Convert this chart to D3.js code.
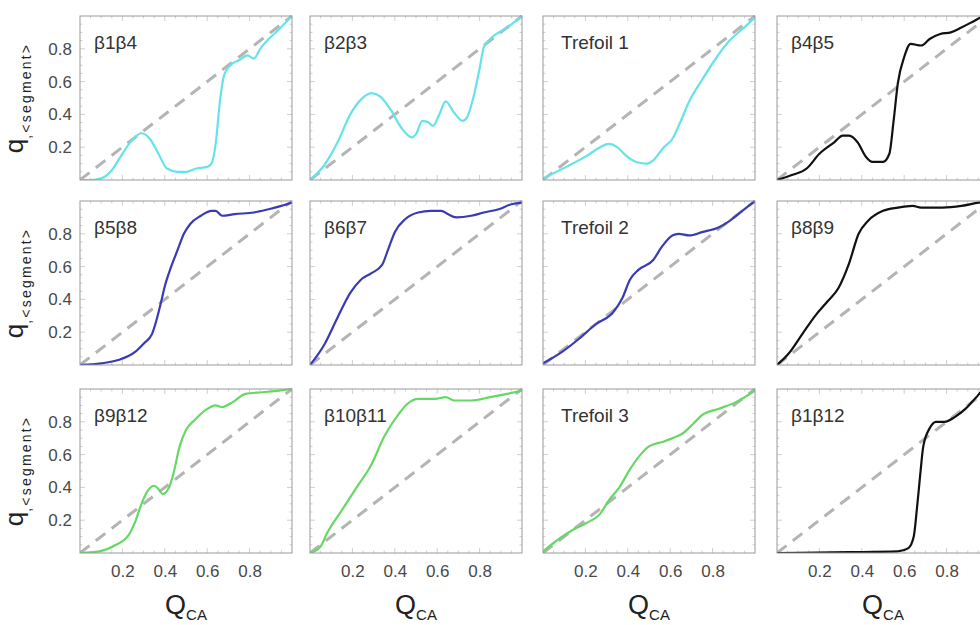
<!DOCTYPE html>
<html><head><meta charset="utf-8">
<script src="https://cdn.jsdelivr.net/npm/d3@7"></script>
<style>
html,body{margin:0;padding:0;background:#fff;}
svg{display:block;font-family:"Liberation Sans",Arial,sans-serif;}
</style></head>
<body>
<svg id="chart" width="980" height="625"></svg>
<script>
// ---- data ----
const panelNames = ["β1β4","β2β3","Trefoil 1","β4β5",
                    "β5β8","β6β7","Trefoil 2","β8β9",
                    "β9β12","β10β11","Trefoil 3","β1β12"];
const rowColors = ["#66e3e8","#3a3ab4","#66d866"];
const col4Color = "#111111";
const tickValues = [0.2,0.4,0.6,0.8];
const tickLabels = ["0.2","0.4","0.6","0.8"];
const diagonal = [[0,0],[1,1]];

const b1b4 = [[0,0],[0.05,0],[0.1,0.01],[0.15,0.06],[0.2,0.16],[0.25,0.25],[0.29,0.285],[0.33,0.25],[0.37,0.16],[0.41,0.07],[0.46,0.05],[0.5,0.05],[0.55,0.07],[0.6,0.08],[0.62,0.1],[0.64,0.22],[0.66,0.48],[0.68,0.64],[0.71,0.7],[0.75,0.73],[0.79,0.76],[0.82,0.74],[0.85,0.8],[0.89,0.86],[0.94,0.92],[1,1]];
const b2b3 = [[0,0],[0.067,0.09],[0.13,0.23],[0.19,0.4],[0.24,0.49],[0.29,0.53],[0.33,0.51],[0.38,0.43],[0.43,0.32],[0.48,0.26],[0.5,0.28],[0.53,0.36],[0.56,0.35],[0.58,0.33],[0.61,0.4],[0.64,0.48],[0.68,0.41],[0.72,0.36],[0.74,0.38],[0.77,0.5],[0.8,0.68],[0.82,0.81],[0.85,0.86],[0.93,0.93],[1,1]];
const trefoil1 = [[0,0.01],[0.11,0.08],[0.21,0.15],[0.27,0.2],[0.31,0.22],[0.35,0.2],[0.39,0.15],[0.44,0.11],[0.49,0.1],[0.52,0.12],[0.57,0.2],[0.61,0.25],[0.65,0.36],[0.69,0.48],[0.75,0.61],[0.82,0.75],[0.88,0.85],[0.94,0.92],[1,0.99]];
const b4b5 = [[0,0],[0.07,0.03],[0.14,0.07],[0.2,0.16],[0.27,0.23],[0.31,0.27],[0.34,0.27],[0.38,0.23],[0.42,0.14],[0.45,0.11],[0.5,0.11],[0.53,0.16],[0.55,0.36],[0.57,0.59],[0.6,0.75],[0.63,0.83],[0.68,0.82],[0.72,0.86],[0.77,0.89],[0.82,0.9],[0.87,0.93],[0.93,0.97],[0.96,0.99],[1,1]];
const b5b8 = [[0,0],[0.1,0.01],[0.18,0.03],[0.26,0.08],[0.3,0.13],[0.34,0.19],[0.36,0.27],[0.38,0.37],[0.4,0.48],[0.43,0.6],[0.46,0.7],[0.49,0.8],[0.52,0.86],[0.57,0.91],[0.62,0.94],[0.64,0.94],[0.67,0.91],[0.73,0.92],[0.82,0.93],[0.89,0.95],[0.95,0.97],[1,0.99]];
const b6b7 = [[0,0],[0.07,0.13],[0.13,0.29],[0.19,0.44],[0.24,0.52],[0.29,0.56],[0.34,0.61],[0.37,0.71],[0.4,0.81],[0.45,0.89],[0.51,0.93],[0.57,0.94],[0.62,0.94],[0.65,0.92],[0.69,0.9],[0.76,0.91],[0.82,0.93],[0.89,0.95],[0.95,0.98],[1,0.99]];
const trefoil2 = [[0,0.01],[0.09,0.08],[0.17,0.16],[0.25,0.25],[0.33,0.32],[0.375,0.41],[0.41,0.52],[0.45,0.58],[0.52,0.64],[0.56,0.72],[0.61,0.79],[0.64,0.8],[0.69,0.79],[0.75,0.81],[0.83,0.84],[0.87,0.87],[0.94,0.94],[1,1]];
const b8b9 = [[0,0],[0.055,0.07],[0.12,0.19],[0.18,0.3],[0.24,0.39],[0.29,0.47],[0.34,0.62],[0.385,0.8],[0.43,0.88],[0.5,0.94],[0.57,0.96],[0.64,0.97],[0.68,0.96],[0.78,0.96],[0.87,0.97],[0.95,0.99],[1,1]];
const b9b12 = [[0,0],[0.09,0.01],[0.17,0.05],[0.23,0.11],[0.26,0.19],[0.29,0.3],[0.32,0.38],[0.35,0.41],[0.37,0.39],[0.39,0.36],[0.42,0.4],[0.44,0.48],[0.47,0.65],[0.5,0.75],[0.54,0.81],[0.59,0.87],[0.64,0.9],[0.67,0.89],[0.72,0.92],[0.78,0.97],[0.86,0.98],[0.94,0.99],[1,1]];
const b10b11 = [[0,0],[0.05,0.04],[0.08,0.12],[0.15,0.26],[0.22,0.4],[0.29,0.54],[0.35,0.71],[0.42,0.85],[0.46,0.91],[0.51,0.94],[0.59,0.94],[0.64,0.95],[0.68,0.93],[0.76,0.93],[0.85,0.95],[0.93,0.97],[1,0.99]];
const trefoil3 = [[0,0.01],[0.08,0.09],[0.14,0.14],[0.2,0.18],[0.27,0.24],[0.31,0.32],[0.36,0.4],[0.41,0.51],[0.46,0.6],[0.5,0.65],[0.57,0.68],[0.63,0.71],[0.66,0.73],[0.71,0.79],[0.75,0.84],[0.83,0.88],[0.91,0.92],[1,0.99]];
const b1b12 = [[0,0],[0.34,0.005],[0.57,0.01],[0.62,0.03],[0.645,0.1],[0.66,0.27],[0.675,0.47],[0.69,0.65],[0.72,0.76],[0.75,0.8],[0.79,0.8],[0.84,0.83],[0.89,0.88],[0.94,0.95],[0.97,0.99],[1,1]];

const seriesList = [b1b4,b2b3,trefoil1,b4b5,b5b8,b6b7,trefoil2,b8b9,b9b12,b10b11,trefoil3,b1b12];

// ---- layout ----
const colLeft = [80,310,543,777];
const rowTop = [16,201,389];
const W = 212, H = 164;

const svg = d3.select("#chart");
const defs = svg.append("defs");
const x = d3.scaleLinear().domain([0,1]).range([0,W]);
const y = d3.scaleLinear().domain([0,1]).range([H,0]);
const line = d3.line().x(d=>x(d[0])).y(d=>y(d[1])).curve(d3.curveMonotoneX);
const minor = d3.range(0.05,1,0.05).map(v=>+v.toFixed(2));

panelNames.forEach((name,i)=>{
  const r = Math.floor(i/4), c = i%4;
  const g = svg.append("g").attr("transform",`translate(${colLeft[c]},${rowTop[r]})`);
  const cid = "clip"+i;
  defs.append("clipPath").attr("id",cid).append("rect").attr("x",0).attr("y",-1).attr("width",W).attr("height",H+1);

  // frame ticks (inward, all four sides)
  const tg = g.append("g").attr("stroke","#cfcfcf").attr("stroke-width",1);
  minor.forEach(v=>{
    const major = tickValues.some(t=>Math.abs(t-v)<1e-6);
    const L = major?5:2.5;
    tg.append("line").attr("x1",x(v)).attr("x2",x(v)).attr("y1",H).attr("y2",H-L);
    tg.append("line").attr("x1",x(v)).attr("x2",x(v)).attr("y1",0).attr("y2",L);
    tg.append("line").attr("y1",y(v)).attr("y2",y(v)).attr("x1",0).attr("x2",L);
    tg.append("line").attr("y1",y(v)).attr("y2",y(v)).attr("x1",W).attr("x2",W-L);
  });

  const plot = g.append("g").attr("clip-path",`url(#${cid})`);
  plot.append("path").datum(diagonal).attr("d",d3.line().x(d=>x(d[0])).y(d=>y(d[1])))
    .attr("fill","none").attr("stroke","#b4b4b4").attr("stroke-width",3)
    .attr("stroke-dasharray","12,8");
  plot.append("path").datum(seriesList[i]).attr("d",line)
    .attr("fill","none").attr("stroke", c===3?col4Color:rowColors[r])
    .attr("stroke-width",2.2).attr("stroke-linejoin","round");

  g.append("rect").attr("width",W).attr("height",H).attr("fill","none")
    .attr("stroke","#9a9a9a").attr("stroke-width",1);

  g.append("text").attr("x", name.startsWith("Trefoil")?18:14).attr("y",33)
    .attr("font-size",19).attr("fill","#333").text(name);

  if(c===0){
    const ya = d3.axisLeft(y).tickValues(tickValues).tickFormat((d,k)=>tickLabels[k]).tickSize(0).tickPadding(8);
    const ag = g.append("g").call(ya);
    ag.select(".domain").remove();
    ag.selectAll("text").attr("font-size",17).attr("fill","#4a4a4a").attr("font-family","Liberation Sans, Arial, sans-serif");
    const yl = svg.append("text")
      .attr("transform",`translate(23,${rowTop[r]+H/2}) rotate(-90)`)
      .attr("text-anchor","middle").attr("fill","#222");
    yl.append("tspan").attr("font-size",26).text("q");
    yl.append("tspan").attr("font-size",14).attr("letter-spacing",2.2).attr("dy",8).text(",<segment>");
  }
  if(r===2){
    const xa = d3.axisBottom(x).tickValues(tickValues).tickFormat((d,k)=>tickLabels[k]).tickSize(0).tickPadding(12);
    const ag = g.append("g").attr("transform",`translate(0,${H})`).call(xa);
    ag.select(".domain").remove();
    ag.selectAll("text").attr("font-size",17).attr("fill","#4a4a4a").attr("font-family","Liberation Sans, Arial, sans-serif");
    const xl = svg.append("text").attr("x",colLeft[c]+W/2).attr("y",614)
      .attr("text-anchor","middle").attr("fill","#222");
    xl.append("tspan").attr("font-size",27).text("Q");
    xl.append("tspan").attr("font-size",15).attr("dy",6).text("CA");
  }
});
</script>
</body></html>
